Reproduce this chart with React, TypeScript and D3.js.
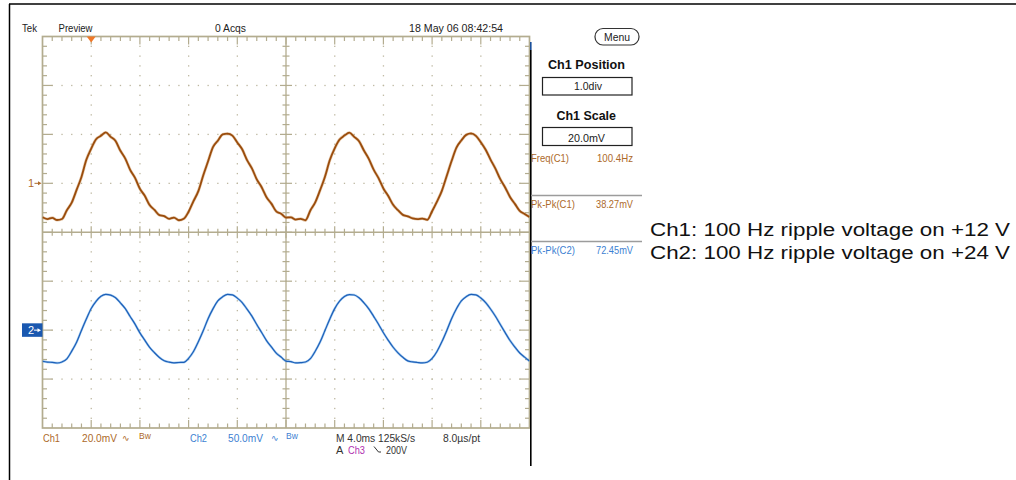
import React from 'react';
import * as d3 from 'd3';

// ---- data ----
const timeMs = [
  0, 0.4, 0.8, 1.2, 1.6, 2, 2.4, 2.8, 3.2, 3.6, 4, 4.4, 4.8, 5.2, 5.6, 6, 6.4, 6.8, 7.2, 7.6, 8, 8.4, 8.8, 9.2, 9.6,
  10, 10.4, 10.8, 11.2, 11.6, 12, 12.4, 12.8, 13.2, 13.6, 14, 14.4, 14.8, 15.2, 15.6, 16, 16.4, 16.8, 17.2, 17.6, 18, 18.4, 18.8, 19.2, 19.6,
  20, 20.4, 20.8, 21.2, 21.6, 22, 22.4, 22.8, 23.2, 23.6, 24, 24.4, 24.8, 25.2, 25.6, 26, 26.4, 26.8, 27.2, 27.6, 28, 28.4, 28.8, 29.2, 29.6,
  30, 30.4, 30.8, 31.2, 31.6, 32, 32.4, 32.8, 33.2, 33.6, 34, 34.4, 34.8, 35.2, 35.6, 36, 36.4, 36.8, 37.2, 37.6, 38, 38.4, 38.8, 39.2, 39.6,
  40,
];

const ch1mV = [
  -13.9, -14.6, -14.1, -15.0, -14.6, -11.0, -7.9, -2.7, 2.6, 9.6, 14.2, 18.0, 19.4, 20.8, 19.0, 17.3, 13.3, 10.1, 5.5, 2.2, -2.2, -5.1, -8.9, -10.9, -13.0,
  -13.4, -14.5, -14.0, -15.1, -14.5, -11.6, -7.3, -3.2, 3.2, 9.0, 14.8, 17.4, 20.0, 20.3, 19.5, 16.7, 13.9, 9.5, 6.1, 1.6, -1.6, -5.7, -8.3, -11.5, -12.4,
  -14.0, -13.9, -14.8, -14.5, -15.1, -11.1, -7.8, -2.8, 2.7, 9.5, 14.3, 17.9, 19.5, 20.7, 19.0, 17.2, 13.4, 10.0, 5.6, 2.1, -2.1, -5.2, -8.8, -11.0, -12.9,
  -13.5, -14.3, -14.6, -14.4, -14.9, -11.4, -7.5, -3.1, 3.0, 9.1, 14.6, 17.5, 19.8, 20.4, 19.4, 16.8, 13.7, 9.7, 6.0, 1.7, -1.7, -5.6, -8.4, -11.3, -12.5,
  -13.8,
];

const ch2mV = [
  -31.8, -32.6, -33.0, -33.6, -32.5, -29.3, -21.5, -12.3, -0.3, 11.3, 22.1, 29.5, 34.5, 36.6, 35.8, 33.1, 27.8, 21.9, 13.9, 6.1, -2.8, -10.3, -17.6, -23.1, -27.9,
  -31.3, -32.7, -33.4, -33.1, -32.9, -28.8, -21.9, -11.9, -0.7, 11.7, 21.7, 29.9, 34.1, 36.5, 36.1, 32.7, 28.2, 21.5, 14.3, 5.7, -2.4, -10.7, -17.2, -23.5, -27.5,
  -31.7, -32.2, -33.5, -33.2, -32.6, -29.2, -21.6, -12.2, -0.4, 11.4, 22.0, 29.6, 34.4, 36.3, 35.9, 33.0, 27.9, 21.8, 14.0, 6.0, -2.7, -10.4, -17.5, -23.2, -27.8,
  -31.4, -32.5, -33.1, -33.5, -32.8, -28.9, -21.8, -12.0, -0.6, 11.6, 21.8, 29.8, 34.2, 36.5, 36.0, 32.8, 28.1, 21.6, 14.2, 5.8, -2.5, -10.6, -17.3, -23.4, -27.6,
  -31.6,
];

const timePerDivMs = 4;
const ch1ScaleMv = 20;
const ch1PositionDiv = 1;
const ch2ScaleMv = 50;
const ch2PositionDiv = -2;
const horizontalDivs = 10;
const verticalDivs = 8;

const headerLabels = ['Tek', 'Preview', '0 Acqs', '18 May 06 08:42:54'];
const measureNames = ['Freq(C1)', 'Pk-Pk(C1)', 'Pk-Pk(C2)'];
const measureValues = ['100.4Hz', '38.27mV', '72.45mV'];
const captionLines = ['Ch1: 100 Hz ripple voltage on +12 V', 'Ch2: 100 Hz ripple voltage on +24 V'];

// ---- colours ----
const GRAT = '#b3ac8f';
const DOT = '#bdb7a0';
const CH1 = '#9a4c0c';
const CH1_TXT = '#ad6a2a';
const CH2 = '#1d5fb8';
const CH2_TXT = '#3d7fd2';
const NARROW = "'Liberation Sans Narrow', 'Liberation Sans', Arial, sans-serif";
const SANS = "'Liberation Sans', Arial, Helvetica, sans-serif";

export default function App() {
  const left = 42.5, right = 529.5, top = 36.5, bottom = 428;
  const gx = d3.scaleLinear().domain([0, horizontalDivs]).range([left, right]);
  const gy = d3.scaleLinear().domain([-verticalDivs / 2, verticalDivs / 2]).range([bottom, top]);
  const xT = d3.scaleLinear().domain([0, horizontalDivs * timePerDivMs]).range([left, right]);
  const y1 = d3
    .scaleLinear()
    .domain([(-4 - ch1PositionDiv) * ch1ScaleMv, (4 - ch1PositionDiv) * ch1ScaleMv])
    .range([bottom, top]);
  const y2 = d3
    .scaleLinear()
    .domain([(-4 - ch2PositionDiv) * ch2ScaleMv, (4 - ch2PositionDiv) * ch2ScaleMv])
    .range([bottom, top]);

  const line1 = d3
    .line<number>()
    .x((_, i) => xT(timeMs[i]))
    .y((d) => y1(d))
    .curve(d3.curveMonotoneX);
  const line2 = d3
    .line<number>()
    .x((_, i) => xT(timeMs[i]))
    .y((d) => y2(d))
    .curve(d3.curveMonotoneX);

  const isMajor = (v: number) => Math.abs(v - Math.round(v)) < 1e-6;
  const xMinor = d3.range(0, horizontalDivs + 1e-6, 0.2).map((v) => +v.toFixed(2));
  const yMinor = d3.range(-verticalDivs / 2, verticalDivs / 2 + 1e-6, 0.2).map((v) => +v.toFixed(2));
  const cx = gx(horizontalDivs / 2);
  const cy = gy(0);

  const grid: React.ReactNode[] = [];
  d3.range(1, horizontalDivs).forEach((i) => {
    if (i === horizontalDivs / 2) return;
    yMinor.forEach((v, k) => {
      if (k === 0 || k === yMinor.length - 1) return;
      grid.push(<rect key={`vd${i}-${k}`} x={gx(i) - 0.6} y={gy(v) - 0.6} width={1.3} height={1.3} fill={DOT} />);
    });
  });
  d3.range(-3, 4).forEach((j) => {
    if (j === 0) return;
    xMinor.forEach((v, k) => {
      if (k === 0 || k === xMinor.length - 1) return;
      grid.push(<rect key={`hd${j}-${k}`} x={gx(v) - 0.6} y={gy(j) - 0.6} width={1.3} height={1.3} fill={DOT} />);
    });
  });
  xMinor.forEach((v, k) => {
    if (k === 0 || k === xMinor.length - 1) return;
    const L = isMajor(v) ? 8 : 4.5;
    const C = isMajor(v) ? 6 : 3.5;
    const x = gx(v);
    grid.push(<line key={`tt${k}`} x1={x} x2={x} y1={top} y2={top + L} stroke={GRAT} strokeWidth={1.2} />);
    grid.push(<line key={`tb${k}`} x1={x} x2={x} y1={bottom} y2={bottom - L} stroke={GRAT} strokeWidth={1.2} />);
    grid.push(<line key={`tc${k}`} x1={x} x2={x} y1={cy - C} y2={cy + C} stroke={GRAT} strokeWidth={1.2} />);
  });
  yMinor.forEach((v, k) => {
    if (k === 0 || k === yMinor.length - 1) return;
    const L = isMajor(v) ? 10 : 4.5;
    const C = isMajor(v) ? 6 : 3.5;
    const y = gy(v);
    grid.push(<line key={`tl${k}`} x1={left} x2={left + L} y1={y} y2={y} stroke={GRAT} strokeWidth={1.2} />);
    grid.push(<line key={`tr${k}`} x1={right} x2={right - L} y1={y} y2={y} stroke={GRAT} strokeWidth={1.2} />);
    grid.push(<line key={`tcv${k}`} x1={cx - C} x2={cx + C} y1={y} y2={y} stroke={GRAT} strokeWidth={1.2} />);
  });

  const headerX = [22, 58.5, 215, 409];
  const headerW = [15, 34, 31, 94];

  return (
    <svg
      width={1016}
      height={480}
      viewBox="0 0 1016 480"
      style={{ position: 'absolute', left: 0, top: 0, display: 'block', background: '#fff' }}
    >
      <rect x={0} y={0} width={1016} height={480} fill="#fff" />
      <line x1={9} x2={1016} y1={4} y2={4} stroke="#000" strokeWidth={1.5} />
      <line x1={9.5} x2={9.5} y1={4} y2={480} stroke="#000" strokeWidth={1.5} />

      {headerLabels.map((t, i) => (
        <text
          key={t}
          x={headerX[i]}
          y={32}
          fontFamily={NARROW}
          fontSize={11}
          fill="#222"
          textLength={headerW[i]}
          lengthAdjust="spacingAndGlyphs"
        >
          {t}
        </text>
      ))}

      <g>{grid}</g>
      <line x1={cx} x2={cx} y1={top} y2={bottom} stroke={GRAT} strokeWidth={1.3} />
      <line x1={left} x2={right} y1={cy} y2={cy} stroke={GRAT} strokeWidth={1.3} />
      <rect x={left} y={top} width={right - left} height={bottom - top} fill="none" stroke={GRAT} strokeWidth={1.7} />

      <path d={`M${gx(1) - 4.5},${top} L${gx(1) + 4.5},${top} L${gx(1)},${top + 6} Z`} fill="#f07828" />

      <defs>
        <clipPath id="scr">
          <rect x={left} y={top} width={right - left} height={bottom - top} />
        </clipPath>
      </defs>
      <g clipPath="url(#scr)">
        <path d={line1(ch1mV) || ''} fill="none" stroke="#c8894c" strokeOpacity={0.45} strokeWidth={3} strokeLinejoin="round" />
        <path d={line1(ch1mV) || ''} fill="none" stroke={CH1} strokeWidth={1.8} strokeLinejoin="round" />
        <path d={line2(ch2mV) || ''} fill="none" stroke="#5aa3e6" strokeOpacity={0.55} strokeWidth={2.3} strokeLinejoin="round" />
        <path d={line2(ch2mV) || ''} fill="none" stroke={CH2} strokeWidth={1.2} strokeLinejoin="round" />
      </g>

      <text x={28} y={187.3} fontFamily={NARROW} fontSize={11} fill={CH1_TXT}>1</text>
      <line x1={34.5} x2={39} y1={y1(0)} y2={y1(0)} stroke={CH1_TXT} strokeWidth={1} />
      <path d={`M38,${y1(0) - 2} L41.5,${y1(0)} L38,${y1(0) + 2} Z`} fill={CH1_TXT} />
      <rect x={22} y={y2(0) - 6.8} width={20.5} height={13.5} fill="#1a58b0" />
      <text x={28} y={y2(0) + 4} fontFamily={NARROW} fontSize={11} fill="#fff">2</text>
      <line x1={34} x2={38.5} y1={y2(0)} y2={y2(0)} stroke="#fff" strokeWidth={1} />
      <path d={`M37.5,${y2(0) - 2} L41,${y2(0)} L37.5,${y2(0) + 2} Z`} fill="#fff" />

      <line x1={530.8} x2={530.8} y1={50} y2={466} stroke="#000" strokeWidth={1.6} />
      <line x1={530.8} x2={530.8} y1={42} y2={50} stroke="#1a4f9a" strokeWidth={1.6} />

      <rect x={595} y={28.5} width={44} height={16.5} rx={8} ry={8} fill="#fff" stroke="#333" strokeWidth={1.2} />
      <text x={604} y={40.5} fontFamily={NARROW} fontSize={11} fill="#222" textLength={26} lengthAdjust="spacingAndGlyphs">Menu</text>
      <text x={548} y={69} fontFamily={SANS} fontWeight="bold" fontSize={12} fill="#111" textLength={77} lengthAdjust="spacingAndGlyphs">Ch1 Position</text>
      <rect x={542.5} y={77.5} width={89.5} height={17.5} fill="none" stroke="#222" strokeWidth={1.2} />
      <text x={574} y={90} fontFamily={NARROW} fontSize={11} fill="#222" textLength={28} lengthAdjust="spacingAndGlyphs">1.0div</text>
      <text x={556.5} y={120} fontFamily={SANS} fontWeight="bold" fontSize={12} fill="#111" textLength={59.5} lengthAdjust="spacingAndGlyphs">Ch1 Scale</text>
      <rect x={542.5} y={127.5} width={89.5} height={18} fill="none" stroke="#222" strokeWidth={1.2} />
      <text x={568} y={141.5} fontFamily={NARROW} fontSize={11} fill="#222" textLength={37} lengthAdjust="spacingAndGlyphs">20.0mV</text>

      {measureNames.map((n, i) => {
        const yb = [162, 207.5, 253.5][i];
        const col = i === 2 ? CH2_TXT : CH1_TXT;
        return (
          <g key={n}>
            <text x={531} y={yb} fontFamily={NARROW} fontSize={11} fill={col} textLength={i === 0 ? 38 : 44} lengthAdjust="spacingAndGlyphs">{n}</text>
            <text x={633} y={yb} textAnchor="end" fontFamily={NARROW} fontSize={11} fill={col} textLength={i === 0 ? 36 : 37} lengthAdjust="spacingAndGlyphs">{measureValues[i]}</text>
          </g>
        );
      })}
      <line x1={531} x2={642} y1={195.5} y2={195.5} stroke="#9c9c9c" strokeWidth={1.5} />
      <line x1={531} x2={642} y1={241.5} y2={241.5} stroke="#9c9c9c" strokeWidth={1.5} />

      {captionLines.map((t, i) => (
        <text
          key={t}
          x={650}
          y={235.7 + i * 23.7}
          fontFamily={SANS}
          fontSize={17.5}
          fill="#111"
          textLength={360}
          lengthAdjust="spacingAndGlyphs"
        >
          {t}
        </text>
      ))}

      <g fontFamily={NARROW} fontSize={11}>
        <text x={43} y={441.5} fill={CH1_TXT} textLength={17} lengthAdjust="spacingAndGlyphs">Ch1</text>
        <text x={82} y={441.5} fill={CH1_TXT} textLength={35} lengthAdjust="spacingAndGlyphs">20.0mV</text>
        <text x={122} y={441} fill={CH1_TXT} fontFamily="'DejaVu Sans'" fontSize={9}>∿</text>
        <text x={139} y={438.5} fill={CH1_TXT} fontSize={8.5}>Bw</text>
        <text x={190} y={441.5} fill={CH2_TXT} textLength={17} lengthAdjust="spacingAndGlyphs">Ch2</text>
        <text x={228} y={441.5} fill={CH2_TXT} textLength={35} lengthAdjust="spacingAndGlyphs">50.0mV</text>
        <text x={271} y={441} fill={CH2_TXT} fontFamily="'DejaVu Sans'" fontSize={9}>∿</text>
        <text x={286} y={438.5} fill={CH2_TXT} fontSize={8.5}>Bw</text>
        <text x={336} y={441.5} fill="#333" textLength={79} lengthAdjust="spacingAndGlyphs">M 4.0ms 125kS/s</text>
        <text x={443} y={441.5} fill="#333" textLength={37} lengthAdjust="spacingAndGlyphs">8.0µs/pt</text>
        <text x={336} y={453.5} fill="#333">A</text>
        <text x={348} y={453.5} fill="#b030b0" textLength={17} lengthAdjust="spacingAndGlyphs">Ch3</text>
        <path d="M374,446.5 L378.5,452 L381,452" fill="none" stroke="#333" strokeWidth={1} />
        <text x={386} y={453.5} fill="#333" textLength={21} lengthAdjust="spacingAndGlyphs">200V</text>
      </g>
    </svg>
  );
}
